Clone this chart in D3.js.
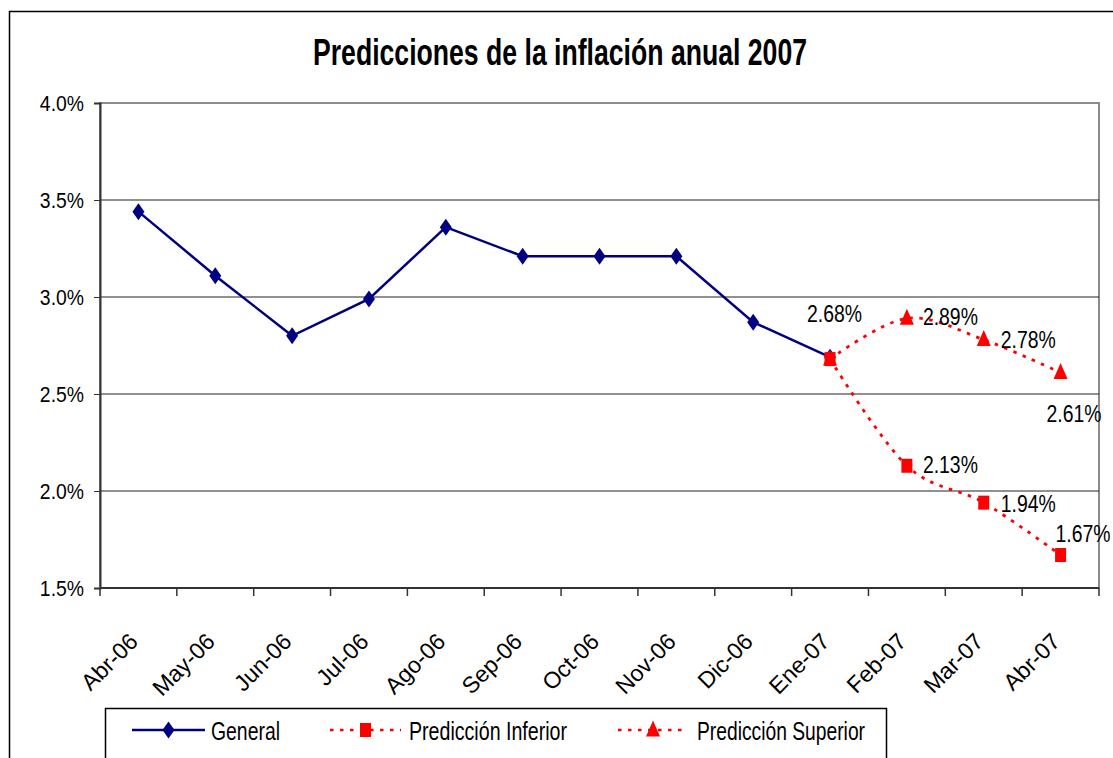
<!DOCTYPE html>
<html>
<head>
<meta charset="utf-8">
<script src="https://cdn.jsdelivr.net/npm/d3@7"></script>
<style>
  body { margin: 0; background: #fff; }
  text { font-family: "Liberation Sans", Arial, sans-serif; }
</style>
</head>
<body>
<div id="chart"></div>
<script>
// categories (months)
var months = ["Abr-06", "May-06", "Jun-06", "Jul-06", "Ago-06", "Sep-06", "Oct-06",
              "Nov-06", "Dic-06", "Ene-07", "Feb-07", "Mar-07", "Abr-07"];

// series values (inflation, %)
var general = [3.44, 3.11, 2.80, 2.99, 3.36, 3.21, 3.21, 3.21, 2.87, 2.69];
var predMonths = ["Ene-07", "Feb-07", "Mar-07", "Abr-07"];
var predInferior = [2.68, 2.13, 1.94, 1.67];
var predSuperior = [2.68, 2.89, 2.78, 2.61];

var yTicks = [1.5, 2.0, 2.5, 3.0, 3.5, 4.0];

var width = 1113,
    height = 758;

var margin = {left: 100, top: 103, right: 1099, bottom: 588};

var navy = "#000080",
    red = "#ff0000";

// squeeze a text horizontally, the picture uses a narrow font
function squeeze(sel, factor) {
  sel.each(function() {
    var w = this.getComputedTextLength();
    d3.select(this).attr("textLength", w * factor).attr("lengthAdjust", "spacingAndGlyphs");
  });
}
function fitWidth(sel, target) {
  sel.attr("textLength", target).attr("lengthAdjust", "spacingAndGlyphs");
}

var svg = d3.select("#chart")
  .append("svg")
  .attr("width", width)
  .attr("height", height);

// outer chart border (runs off the picture on right and bottom)
svg.append("rect")
  .attr("x", 9.5).attr("y", 11.5)
  .attr("width", 1200).attr("height", 900)
  .attr("fill", "none")
  .attr("stroke", "#000")
  .attr("stroke-width", 1.5);

var title = svg.append("text")
  .attr("x", 560).attr("y", 65)
  .attr("text-anchor", "middle")
  .style("font-weight", "bold")
  .style("font-size", "36px")
  .text("Predicciones de la inflación anual 2007");
fitWidth(title, 494);

var x = d3.scaleBand()
  .domain(months)
  .range([margin.left, margin.right]);

var y = d3.scaleLinear()
  .domain([1.5, 4.0])
  .range([margin.bottom, margin.top]);

var cx = function(m) { return x(m) + x.bandwidth() / 2; };

// plot area border (grey)
svg.append("rect")
  .attr("x", margin.left).attr("y", margin.top)
  .attr("width", margin.right - margin.left)
  .attr("height", margin.bottom - margin.top)
  .attr("fill", "none")
  .attr("stroke", "#8c8c8c")
  .attr("stroke-width", 2);

// gridlines
svg.append("g")
  .selectAll("line")
  .data(yTicks.filter(function(d) { return d > 1.5 && d < 4.0; }))
  .enter().append("line")
  .attr("x1", margin.left).attr("x2", margin.right)
  .attr("y1", function(d) { return y(d); })
  .attr("y2", function(d) { return y(d); })
  .attr("stroke", "#222")
  .attr("stroke-width", 1);

// y axis
var yAxis = svg.append("g")
  .attr("transform", "translate(" + margin.left + ",0)")
  .call(d3.axisLeft(y).tickValues(yTicks).tickSize(6).tickPadding(10)
    .tickFormat(function(d) { return d.toFixed(1) + "%"; }));
yAxis.select(".domain").attr("stroke", "#333").attr("stroke-width", 2);
yAxis.selectAll(".tick line").attr("stroke", "#333");
yAxis.selectAll("text")
  .style("font-size", "22px")
  .style("font-family", "'Liberation Sans', Arial, sans-serif")
  .attr("fill", "#000")
  .call(squeeze, 0.88);

// x axis: ticks between categories
var xAxisG = svg.append("g");
xAxisG.append("line")
  .attr("x1", margin.left).attr("x2", margin.right)
  .attr("y1", margin.bottom).attr("y2", margin.bottom)
  .attr("stroke", "#333").attr("stroke-width", 2);
var tickPos = months.map(function(m) { return x(m); }).concat([margin.right]);
xAxisG.selectAll(".xt")
  .data(tickPos)
  .enter().append("line")
  .attr("x1", function(d) { return d; }).attr("x2", function(d) { return d; })
  .attr("y1", margin.bottom).attr("y2", margin.bottom + 8)
  .attr("stroke", "#333").attr("stroke-width", 1.5);
xAxisG.selectAll(".xl")
  .data(months)
  .enter().append("text")
  .attr("text-anchor", "end")
  .attr("transform", function(d) {
    return "translate(" + (cx(d) + 1) + "," + (margin.bottom + 55) + ") rotate(-45)";
  })
  .style("font-size", "23px")
  .text(function(d) { return d; });

// marker shapes
function diamondPath(w, h) {
  return "M0," + (-h / 2) + "L" + (w / 2) + ",0L0," + (h / 2) + "L" + (-w / 2) + ",0Z";
}
function trianglePath(w, h) {
  return "M0," + (-h * 0.6) + "L" + (w / 2) + "," + (h * 0.4) + "L" + (-w / 2) + "," + (h * 0.4) + "Z";
}

// General series
var genData = general.map(function(v, i) { return {m: months[i], v: v}; });
svg.append("path")
  .datum(genData)
  .attr("fill", "none")
  .attr("stroke", navy)
  .attr("stroke-width", 2.5)
  .attr("d", d3.line().x(function(d) { return cx(d.m); }).y(function(d) { return y(d.v); }));
svg.append("g").selectAll("path")
  .data(genData)
  .enter().append("path")
  .attr("transform", function(d) { return "translate(" + cx(d.m) + "," + y(d.v) + ")"; })
  .attr("d", diamondPath(12, 17))
  .attr("fill", navy);

var supData = predSuperior.map(function(v, i) { return {m: predMonths[i], v: v}; });
var infData = predInferior.map(function(v, i) { return {m: predMonths[i], v: v}; });

var smooth = d3.line()
  .curve(d3.curveCardinal.tension(0))
  .x(function(d) { return cx(d.m); })
  .y(function(d) { return y(d.v); });

[supData, infData].forEach(function(data) {
  svg.append("path")
    .datum(data)
    .attr("fill", "none")
    .attr("stroke", red)
    .attr("stroke-width", 2.8)
    .attr("stroke-dasharray", "3.5,6.5")
    .attr("d", smooth);
});

svg.append("g").selectAll("path")
  .data(supData)
  .enter().append("path")
  .attr("transform", function(d) { return "translate(" + cx(d.m) + "," + y(d.v) + ")"; })
  .attr("d", trianglePath(14, 16))
  .attr("fill", red);

svg.append("g").selectAll("rect")
  .data(infData)
  .enter().append("rect")
  .attr("x", function(d) { return cx(d.m) - 5.5; })
  .attr("y", function(d) { return y(d.v) - 7; })
  .attr("width", 11).attr("height", 14)
  .attr("fill", red);

// data labels (offset of the text baseline start from the point)
var fmt = function(v) { return v.toFixed(2) + "%"; };
var supOffsets = [[-23, -37], [16, 7], [17, 8], [-14, 49]];
var infOffsets = [null, [16, 7], [17, 9], [-5, -13]];
svg.append("g").selectAll("text")
  .data(supData)
  .enter().append("text")
  .attr("x", function(d, i) { return cx(d.m) + supOffsets[i][0]; })
  .attr("y", function(d, i) { return y(d.v) + supOffsets[i][1]; })
  .style("font-size", "23px")
  .text(function(d) { return fmt(d.v); })
  .call(fitWidth, 55);
svg.append("g").selectAll("text")
  .data(infData.slice(1))
  .enter().append("text")
  .attr("x", function(d, i) { return cx(d.m) + infOffsets[i + 1][0]; })
  .attr("y", function(d, i) { return y(d.v) + infOffsets[i + 1][1]; })
  .style("font-size", "23px")
  .text(function(d) { return fmt(d.v); })
  .call(fitWidth, 55);

// legend
var lg = svg.append("g");
lg.append("rect")
  .attr("x", 105.5).attr("y", 708.5)
  .attr("width", 781).attr("height", 80)
  .attr("fill", "#fff")
  .attr("stroke", "#000")
  .attr("stroke-width", 1.5);

var legendItems = [
  {name: "General", x0: 132, x1: 205, tx: 211, w: 69, color: navy, dash: null, mark: "diamond"},
  {name: "Predicción Inferior", x0: 330, x1: 401, tx: 409, w: 158, color: red, dash: "3.5,6.5", mark: "square"},
  {name: "Predicción Superior", x0: 618, x1: 688, tx: 697, w: 168, color: red, dash: "3.5,6.5", mark: "triangle"}
];
var ly = 730;
legendItems.forEach(function(d) {
  lg.append("line")
    .attr("x1", d.x0).attr("x2", d.x1)
    .attr("y1", ly).attr("y2", ly)
    .attr("stroke", d.color)
    .attr("stroke-width", 2.5)
    .attr("stroke-dasharray", d.dash);
  var mx = (d.x0 + d.x1) / 2;
  if (d.mark == "diamond") {
    lg.append("path").attr("transform", "translate(" + mx + "," + ly + ")")
      .attr("d", diamondPath(12, 17)).attr("fill", d.color);
  } else if (d.mark == "square") {
    lg.append("rect").attr("x", mx - 5.5).attr("y", ly - 7)
      .attr("width", 11).attr("height", 14).attr("fill", d.color);
  } else {
    lg.append("path").attr("transform", "translate(" + mx + "," + ly + ")")
      .attr("d", trianglePath(14, 16)).attr("fill", d.color);
  }
  lg.append("text")
    .attr("x", d.tx).attr("y", ly + 10)
    .style("font-size", "26px")
    .text(d.name)
    .call(fitWidth, d.w);
});
</script>
</body>
</html>
